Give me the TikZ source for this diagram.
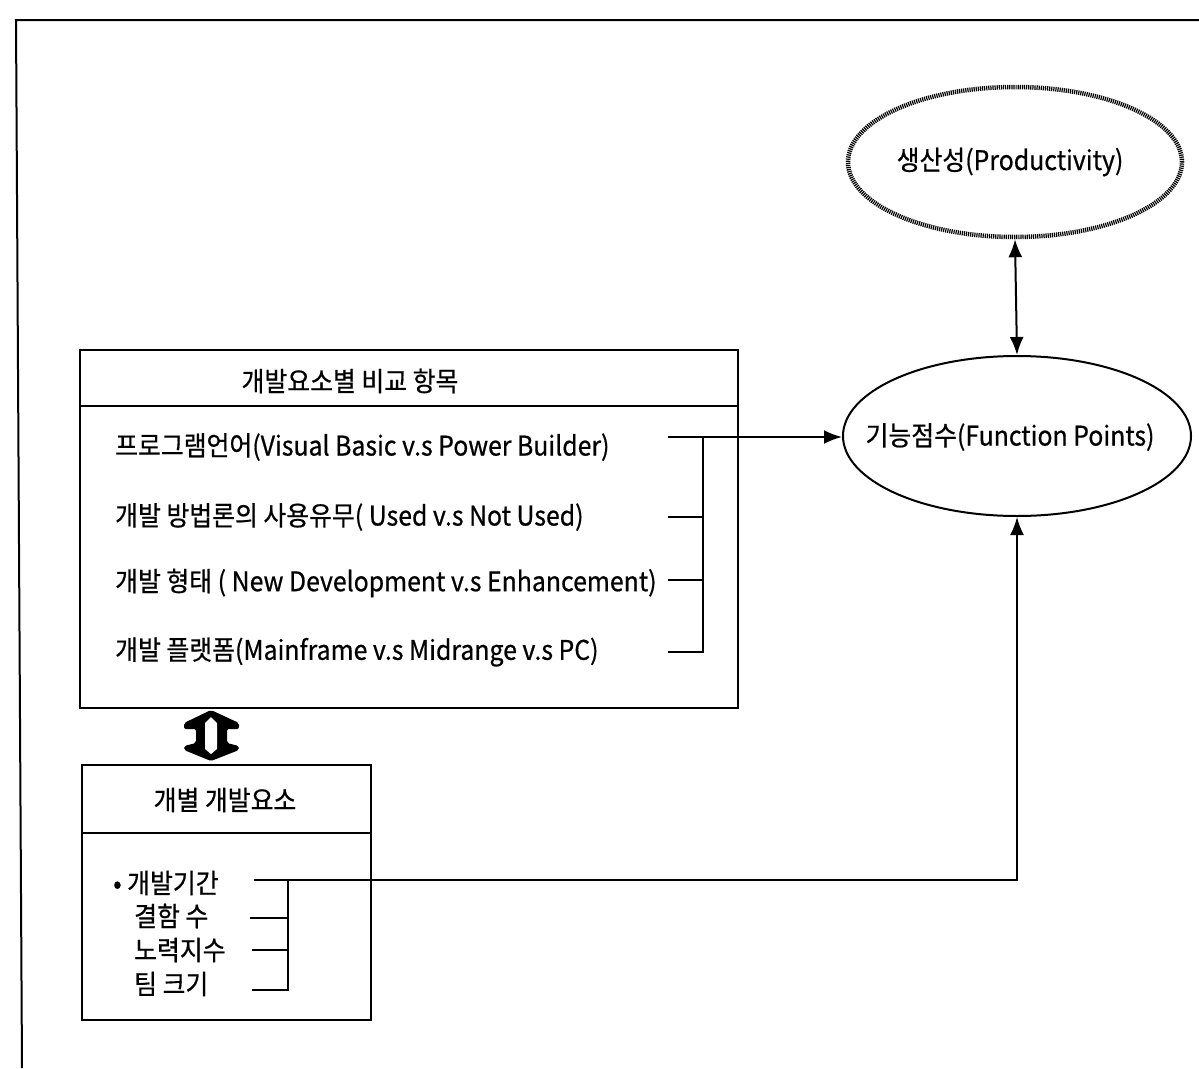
\documentclass[tikz,border=0pt]{standalone}
\usepackage{fontspec}
\setmainfont{Noto Sans CJK KR}[FakeStretch=0.92,FakeBold=0.6]
\usetikzlibrary{shapes.geometric,arrows.meta}
\tikzset{
  ln/.style={line width=2pt},
  box/.style={draw,line width=2pt,rectangle,inner sep=0pt},
  txt/.style={font=\fontsize{27}{31}\selectfont,inner sep=0pt,anchor=west},
  ctxt/.style={font=\fontsize{27}{31}\selectfont,inner sep=0pt},
  oval/.style={draw,ellipse,line width=2pt,inner sep=0pt},
  tip/.style={-{Latex[length=18pt,width=14pt]}},
}
\begin{document}
\begin{tikzpicture}[x=1pt,y=-1pt]
\useasboundingbox (0,0) rectangle (1199,1068);
% frame
\draw[ln] (22,1068) -- (16,20) -- (1199,20);

% ellipses
\node[oval,minimum width=334pt,minimum height=150pt,line width=4.5pt,dash pattern=on 1.2pt off 0.9pt] (prod) at (1015,162) {};
\node[ctxt] (prodt) at (1010,162) {생산성(Productivity)};
\node[oval,minimum width=348pt,minimum height=160pt] (fp) at (1017,436) {};
\node[ctxt] (fpt) at (1010,437) {기능점수(Function Points)};
\draw[ln,{Latex[length=18pt,width=14pt]}-{Latex[length=18pt,width=14pt]}] (prod.south) -- (fp.north);

% big box
\node[box,minimum width=658pt,minimum height=358pt] (big) at (409,529) {};
\draw[ln] ([yshift=-57pt]big.north west) -- ([yshift=-57pt]big.north east);
\node[ctxt] (bigh) at (350,381) {개발요소별 비교 항목};
\node[txt] (r1) at (115,447) {프로그램언어(Visual Basic v.s Power Builder)};
\node[txt] (r2) at (115,517) {개발 방법론의 사용유무( Used v.s Not Used)};
\node[txt] (r3) at (115,583) {개발 형태 ( New Development v.s Enhancement)};
\node[txt] (r4) at (115,652) {개발 플랫폼(Mainframe v.s Midrange v.s PC)};
\coordinate (a1) at (668,437);
\coordinate (a2) at (668,517);
\coordinate (a3) at (668,580);
\coordinate (a4) at (668,652);
\coordinate (b1) at (703,437);
\coordinate (b4) at (703,652);
\draw[ln] (a2) -- (a2 -| b1);
\draw[ln] (a3) -- (a3 -| b1);
\draw[ln] (a4) -- (b4) -- (b1);
\draw[ln,tip] (a1) -- (fp.west |- a1);

% block double arrow
\fill[black,rounded corners=2pt] (211,710) -- (239,723) -- (239,729) -- (227,729) -- (227,743) -- (239,746) -- (239,750) -- (211,761) -- (184,750) -- (184,746) -- (196,743) -- (196,729) -- (184,729) -- (184,723) -- cycle;
\fill[white] (211,717) -- (217,723) -- (217,749) -- (211,754) -- (205,749) -- (205,723) -- cycle;

% small box
\node[box,minimum width=289pt,minimum height=255pt] (small) at (226.5,892.5) {};
\draw[ln] ([yshift=-69pt]small.north west) -- ([yshift=-69pt]small.north east);
\node[ctxt] (smallh) at (225,800) {개별 개발요소};
\node[txt] (i1) at (113,883) {• 개발기간};
\node[txt] (i2) at (134,916) {결함 수};
\node[txt] (i3) at (134,950) {노력지수};
\node[txt] (i4) at (134,984) {팀 크기};
\coordinate (c1) at (254,880);
\coordinate (c2) at (250,918);
\coordinate (c3) at (252,950);
\coordinate (c4) at (252,990);
\coordinate (d1) at (288,880);
\coordinate (d4) at (288,990);
\draw[ln] (c2) -- (c2 -| d1);
\draw[ln] (c3) -- (c3 -| d1);
\draw[ln] (c4) -- (d4) -- (d1);
\draw[ln,tip] (c1) -- (fp.south |- c1) -- (fp.south);
\end{tikzpicture}
\end{document}
